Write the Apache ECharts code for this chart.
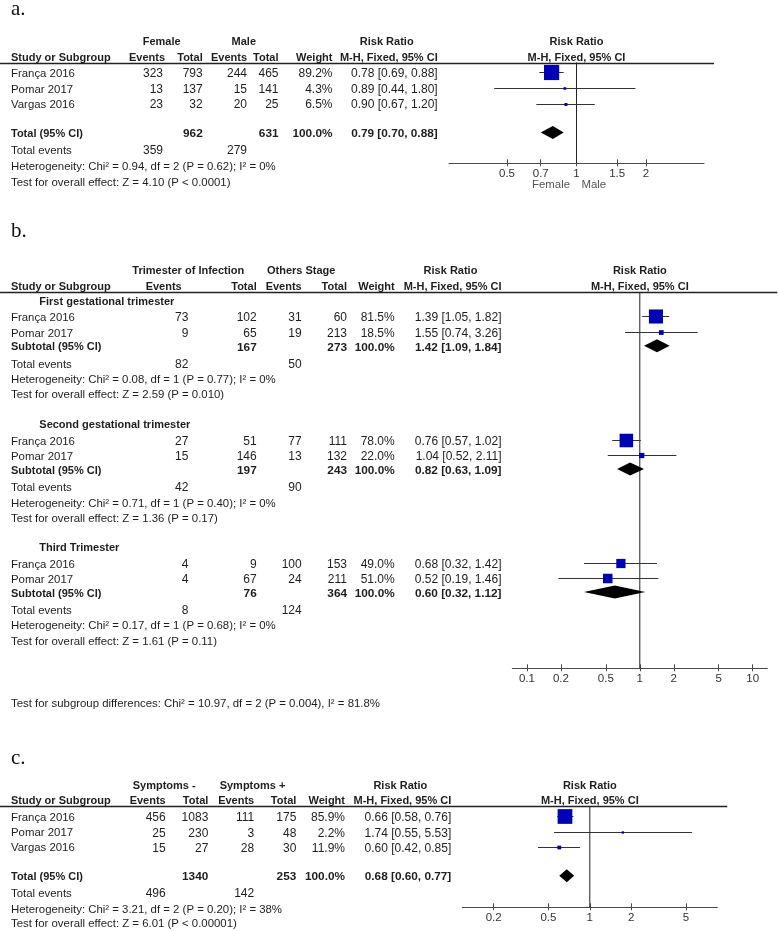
<!DOCTYPE html>
<html><head><meta charset="utf-8">
<script src="https://cdn.jsdelivr.net/npm/echarts@6/dist/echarts.min.js"></script>
<style>html,body{margin:0;padding:0;background:#fff}#main{width:778px;height:931px}</style>
</head><body><div id="main"></div>
<script>
// ---------------- Panel a : Female vs Male ----------------
const aStudies = ['França 2016', 'Pomar 2017', 'Vargas 2016'];
const aFemaleEvents = [323, 13, 23];
const aFemaleTotal = [793, 137, 32];
const aMaleEvents = [244, 15, 20];
const aMaleTotal = [465, 141, 25];
const aWeight = [89.2, 4.3, 6.5];
const aRR = [0.78, 0.89, 0.90];
const aLow = [0.69, 0.44, 0.67];
const aHigh = [0.88, 1.80, 1.20];
const aTotalN = [962, 631];
const aTotalEvents = [359, 279];
const aPooled = [0.79, 0.70, 0.88];
const aHet = 'Heterogeneity: Chi² = 0.94, df = 2 (P = 0.62); I² = 0%';
const aTest = 'Test for overall effect: Z = 4.10 (P < 0.0001)';
const aTicks = [0.5, 0.7, 1, 1.5, 2];
const aGroups = ['Female', 'Male'];
const aFavours = ['Female', 'Male'];

// ---------------- Panel b : trimester of infection ----------------
const bSubgroups = ['First gestational trimester', 'Second gestational trimester', 'Third Trimester'];
const bStudies = ['França 2016', 'Pomar 2017'];
const bTriEvents = [[73, 9], [27, 15], [4, 4]];
const bTriTotal = [[102, 65], [51, 146], [9, 67]];
const bOthEvents = [[31, 19], [77, 13], [100, 24]];
const bOthTotal = [[60, 213], [111, 132], [153, 211]];
const bWeight = [[81.5, 18.5], [78.0, 22.0], [49.0, 51.0]];
const bRR = [[1.39, 1.55], [0.76, 1.04], [0.68, 0.52]];
const bLow = [[1.05, 0.74], [0.57, 0.52], [0.32, 0.19]];
const bHigh = [[1.82, 3.26], [1.02, 2.11], [1.42, 1.46]];
const bSubTriTotal = [167, 197, 76];
const bSubOthTotal = [273, 243, 364];
const bSubRR = [1.42, 0.82, 0.60];
const bSubLow = [1.09, 0.63, 0.32];
const bSubHigh = [1.84, 1.09, 1.12];
const bEventsTri = [82, 42, 8];
const bEventsOth = [50, 90, 124];
const bHet = ['Heterogeneity: Chi² = 0.08, df = 1 (P = 0.77); I² = 0%',
              'Heterogeneity: Chi² = 0.71, df = 1 (P = 0.40); I² = 0%',
              'Heterogeneity: Chi² = 0.17, df = 1 (P = 0.68); I² = 0%'];
const bTest = ['Test for overall effect: Z = 2.59 (P = 0.010)',
               'Test for overall effect: Z = 1.36 (P = 0.17)',
               'Test for overall effect: Z = 1.61 (P = 0.11)'];
const bOverall = 'Test for subgroup differences: Chi² = 10.97, df = 2 (P = 0.004), I² = 81.8%';
const bTicks = [0.1, 0.2, 0.5, 1, 2, 5, 10];
const bGroups = ['Trimester of Infection', 'Others Stage'];

// ---------------- Panel c : symptoms ----------------
const cStudies = ['França 2016', 'Pomar 2017', 'Vargas 2016'];
const cNegEvents = [456, 25, 15];
const cNegTotal = [1083, 230, 27];
const cPosEvents = [111, 3, 28];
const cPosTotal = [175, 48, 30];
const cWeight = [85.9, 2.2, 11.9];
const cRR = [0.66, 1.74, 0.60];
const cLow = [0.58, 0.55, 0.42];
const cHigh = [0.76, 5.53, 0.85];
const cTotalN = [1340, 253];
const cTotalEvents = [496, 142];
const cPooled = [0.68, 0.60, 0.77];
const cHet = 'Heterogeneity: Chi² = 3.21, df = 2 (P = 0.20); I² = 38%';
const cTest = 'Test for overall effect: Z = 6.01 (P < 0.00001)';
const cTicks = [0.2, 0.5, 1, 2, 5];
const cGroups = ['Symptoms -', 'Symptoms +'];

// ---------------- assemble data (no layout here) ----------------
function studyRows(names, e1, n1, e2, n2, w, rr, lo, hi) {
  return names.map((s, i) => ({name: s, e1: e1[i], n1: n1[i], e2: e2[i], n2: n2[i], w: w[i], rr: rr[i], lo: lo[i], hi: hi[i]}));
}
const PANEL_DATA = [
  {letter: 'a.', groups: aGroups, ticks: aTicks, favours: aFavours, blocks: [{
    title: null, label: 'Total (95% CI)',
    studies: studyRows(aStudies, aFemaleEvents, aFemaleTotal, aMaleEvents, aMaleTotal, aWeight, aRR, aLow, aHigh),
    total: {n1: aTotalN[0], n2: aTotalN[1], rr: aPooled[0], lo: aPooled[1], hi: aPooled[2]},
    events: aTotalEvents, het: aHet, test: aTest}]},
  {letter: 'b.', groups: bGroups, ticks: bTicks, favours: null, overall: bOverall,
    blocks: bSubgroups.map((t, g) => ({
      title: t, label: 'Subtotal (95% CI)',
      studies: studyRows(bStudies, bTriEvents[g], bTriTotal[g], bOthEvents[g], bOthTotal[g], bWeight[g], bRR[g], bLow[g], bHigh[g]),
      total: {n1: bSubTriTotal[g], n2: bSubOthTotal[g], rr: bSubRR[g], lo: bSubLow[g], hi: bSubHigh[g]},
      events: [bEventsTri[g], bEventsOth[g]], het: bHet[g], test: bTest[g]}))},
  {letter: 'c.', groups: cGroups, ticks: cTicks, favours: null, blocks: [{
    title: null, label: 'Total (95% CI)',
    studies: studyRows(cStudies, cNegEvents, cNegTotal, cPosEvents, cPosTotal, cWeight, cRR, cLow, cHigh),
    total: {n1: cTotalN[0], n2: cTotalN[1], rr: cPooled[0], lo: cPooled[1], hi: cPooled[2]},
    events: cTotalEvents, het: cHet, test: cTest}]}
];

// ---------------- layout (positions only) ----------------
const ROW_H = 15.5;
const TEXT_DY = 1.5;
const PANEL_LAYOUT = [
  {letterY: 19.5, top: 62.5, axisY: 163.3, left: 449, width: 255, half: 0.5522, hdr1: -1.41, hdr2: -0.42,
   cols: {study: 11, sub: 39.3, ev1: 163, ev1H: 165, tot1: 202.7, ev2: 247, ev2H: 247, tot2: 278.5, weight: 332.5, rr: 437.7, g1: 161.7, g2: 243.8},
   blocks: [{studies: [0.63, 1.65, 2.65], total: 4.52, events: 5.58, het: 6.61, test: 7.65}]},
  {letterY: 242, top: 292.3, axisY: 668.3, left: 512.3, width: 255, half: 1.1298, hdr1: -1.48, hdr2: -0.45, overall: 26.43,
   cols: {study: 11, sub: 39.3, ev1: 188.3, ev1H: 181.7, tot1: 256.7, ev2: 301.7, ev2H: 301.7, tot2: 347, weight: 394.7, rr: 501.5, g1: 188.3, g2: 301.2},
   blocks: [
     {title: 0.5, studies: [1.56, 2.59], total: 3.45, events: 4.56, het: 5.57, test: 6.54},
     {title: 8.45, studies: [9.55, 10.5], total: 11.4, events: 12.52, het: 13.53, test: 14.5},
     {title: 16.37, studies: [17.47, 18.43], total: 19.34, events: 20.43, het: 21.45, test: 22.45}]},
  {letterY: 769, top: 806.3, axisY: 907.3, left: 462.3, width: 255, half: 0.9269, hdr1: -1.44, hdr2: -0.45,
   cols: {study: 11, sub: 39.3, ev1: 165.7, ev1H: 165.7, tot1: 208.3, ev2: 254.2, ev2H: 254.2, tot2: 296.3, weight: 345, rr: 451.3, g1: 164.2, g2: 252.5},
   blocks: [{studies: [0.65, 1.64, 2.61], total: 4.48, events: 5.57, het: 6.58, test: 7.48}]}
];

const FR = '11.4px "Liberation Sans", Arial, sans-serif';
const FN = '12px "Liberation Sans", Arial, sans-serif';
const FB = 'bold 11px "Liberation Sans", Arial, sans-serif';
const FBN = 'bold 11.8px "Liberation Sans", Arial, sans-serif';
const FL = '21px "Liberation Serif", "Times New Roman", serif';
const TXT = '#1e1e1e';
const AX = '#4a4a4a';

const fmt2 = v => v.toFixed(2);
const rrText = (e, l, h) => fmt2(e) + ' [' + fmt2(l) + ', ' + fmt2(h) + ']';

function renderStudy(params, api) {
  const row = api.value(3);
  const c = api.coord([api.value(0), row]);
  const l = api.coord([api.value(1), row]);
  const h = api.coord([api.value(2), row]);
  const y = Math.round(c[1]) + 0.5;
  const s = 2 + 0.148 * api.value(4);
  return {type: 'group', children: [
    {type: 'line', shape: {x1: l[0], y1: y, x2: h[0], y2: y}, style: {stroke: '#333', lineWidth: 1}},
    {type: 'rect', shape: {x: c[0] - s / 2, y: y - s / 2, width: s, height: s}, style: {fill: '#0000b4'}}
  ]};
}
function renderDiamond(params, api) {
  const row = api.value(3);
  const c = api.coord([api.value(0), row]);
  const l = api.coord([api.value(1), row]);
  const h = api.coord([api.value(2), row]);
  const d = 6.5;
  return {type: 'polygon', shape: {points: [[l[0], c[1]], [c[0], c[1] - d], [h[0], c[1]], [c[0], c[1] + d]]},
          style: {fill: '#000'}};
}

const chart = echarts.init(document.getElementById('main'), null, {renderer: 'canvas'});
const grids = [], xAxes = [], yAxes = [], series = [];
PANEL_LAYOUT.forEach((L, i) => {
  const D = PANEL_DATA[i];
  const gh = L.axisY - L.top;
  const yMax = gh / ROW_H;
  const min = Math.pow(10, -L.half), max = Math.pow(10, L.half);
  grids.push({left: L.left, top: L.top, width: L.width, height: gh, containLabel: false});
  // main axis: line, labels and downward tick halves
  xAxes.push({type: 'log', logBase: 10, gridIndex: i, min: min, max: max, position: 'bottom',
    axisLine: {show: true, onZero: false, lineStyle: {color: AX, width: 1}},
    axisTick: {show: true, inside: false, length: 3, customValues: D.ticks, lineStyle: {color: AX}},
    axisLabel: {show: true, customValues: D.ticks, margin: 5, fontSize: 11.5, color: '#333',
      fontFamily: '"Liberation Sans", Arial, sans-serif', formatter: v => String(+(+v).toPrecision(3))},
    splitLine: {show: false}, minorTick: {show: false}, minorSplitLine: {show: false}});
  // companion axis (same scale) moved down onto the main axis, giving the upward tick halves
  xAxes.push({type: 'log', logBase: 10, gridIndex: i, min: min, max: max, position: 'top', offset: -gh,
    axisLine: {show: false},
    axisTick: {show: true, inside: false, length: 4, customValues: D.ticks, lineStyle: {color: AX}},
    axisLabel: {show: false}, splitLine: {show: false}});
  yAxes.push({type: 'value', gridIndex: i, min: 0, max: yMax, inverse: true, show: false,
    splitLine: {show: false}});
  series.push({type: 'line', xAxisIndex: 2 * i, yAxisIndex: i, data: [[1, 0], [1, yMax]], symbol: 'none',
    silent: true, z: 1, lineStyle: {color: '#222', width: 1}});
  const studyData = [], diaData = [];
  D.blocks.forEach((b, bi) => {
    const LB = L.blocks[bi];
    b.studies.forEach((s, si) => studyData.push([s.rr, s.lo, s.hi, LB.studies[si], s.w]));
    diaData.push([b.total.rr, b.total.lo, b.total.hi, LB.total]);
  });
  series.push({type: 'custom', xAxisIndex: 2 * i, yAxisIndex: i, data: studyData, renderItem: renderStudy,
    encode: {x: [0, 1, 2], y: 3}, z: 3, silent: true, clip: false});
  series.push({type: 'custom', xAxisIndex: 2 * i, yAxisIndex: i, data: diaData, renderItem: renderDiamond,
    encode: {x: [0, 1, 2], y: 3}, z: 3, silent: true, clip: false});
});
chart.setOption({animation: false, backgroundColor: '#fff', grid: grids, xAxis: xAxes, yAxis: yAxes, series: series});

// ---------------- table text via graphic ----------------
function txt(x, y, s, align, font, color, vAlign) {
  return {type: 'text', x: x, y: y, silent: true, style: {text: String(s), font: font, fill: color || TXT,
    align: align, verticalAlign: vAlign || 'middle', textAlign: align, textVerticalAlign: vAlign || 'middle'}};
}
const G = [];
PANEL_LAYOUT.forEach((L, i) => {
  const D = PANEL_DATA[i];
  const C = L.cols;
  const yOf = r => chart.convertToPixel({yAxisIndex: i}, r) + TEXT_DY;
  const nullX = chart.convertToPixel({xAxisIndex: 2 * i}, 1);
  const rightX = chart.convertToPixel({xAxisIndex: 2 * i}, Math.pow(10, L.half));
  const yMax = (L.axisY - L.top) / ROW_H;
  G.push(txt(11, L.letterY, D.letter, 'left', FL, '#111', 'bottom'));
  const lineY = Math.round(chart.convertToPixel({yAxisIndex: i}, 0)) + 0.5;
  G.push({type: 'line', silent: true, shape: {x1: 0, y1: lineY, x2: rightX + 10, y2: lineY},
    style: {stroke: '#222', lineWidth: 1.3}});
  const h1 = yOf(L.hdr1), h2 = yOf(L.hdr2);
  G.push(txt(C.g1, h1, D.groups[0], 'center', FB));
  G.push(txt(C.g2, h1, D.groups[1], 'center', FB));
  G.push(txt(C.rr - 51, h1, 'Risk Ratio', 'center', FB));
  G.push(txt(nullX, h1, 'Risk Ratio', 'center', FB));
  G.push(txt(C.study, h2, 'Study or Subgroup', 'left', FB));
  G.push(txt(C.ev1H, h2, 'Events', 'right', FB));
  G.push(txt(C.tot1, h2, 'Total', 'right', FB));
  G.push(txt(C.ev2H, h2, 'Events', 'right', FB));
  G.push(txt(C.tot2, h2, 'Total', 'right', FB));
  G.push(txt(C.weight, h2, 'Weight', 'right', FB));
  G.push(txt(C.rr, h2, 'M-H, Fixed, 95% CI', 'right', FB));
  G.push(txt(nullX, h2, 'M-H, Fixed, 95% CI', 'center', FB));
  D.blocks.forEach((b, bi) => {
    const LB = L.blocks[bi];
    if (b.title) G.push(txt(C.sub, yOf(LB.title), b.title, 'left', FB));
    b.studies.forEach((s, si) => {
      const y = yOf(LB.studies[si]);
      G.push(txt(C.study, y, s.name, 'left', FR));
      G.push(txt(C.ev1, y, s.e1, 'right', FN));
      G.push(txt(C.tot1, y, s.n1, 'right', FN));
      G.push(txt(C.ev2, y, s.e2, 'right', FN));
      G.push(txt(C.tot2, y, s.n2, 'right', FN));
      G.push(txt(C.weight, y, s.w.toFixed(1) + '%', 'right', FN));
      G.push(txt(C.rr, y, rrText(s.rr, s.lo, s.hi), 'right', FN));
    });
    const ty = yOf(LB.total);
    G.push(txt(C.study, ty, b.label, 'left', FB));
    G.push(txt(C.tot1, ty, b.total.n1, 'right', FBN));
    G.push(txt(C.tot2, ty, b.total.n2, 'right', FBN));
    G.push(txt(C.weight, ty, '100.0%', 'right', FBN));
    G.push(txt(C.rr, ty, rrText(b.total.rr, b.total.lo, b.total.hi), 'right', FBN));
    const ey = yOf(LB.events);
    G.push(txt(C.study, ey, 'Total events', 'left', FR));
    G.push(txt(C.ev1, ey, b.events[0], 'right', FN));
    G.push(txt(C.ev2, ey, b.events[1], 'right', FN));
    G.push(txt(C.study, yOf(LB.het), b.het, 'left', FR));
    G.push(txt(C.study, yOf(LB.test), b.test, 'left', FR));
  });
  if (D.overall) G.push(txt(C.study, yOf(L.overall), D.overall, 'left', FR));
  if (D.favours) {
    const fy = chart.convertToPixel({yAxisIndex: i}, yMax) + 22;
    G.push(txt(nullX - 6.5, fy, D.favours[0], 'right', FR, '#555'));
    G.push(txt(nullX + 5, fy, D.favours[1], 'left', FR, '#555'));
  }
});
chart.setOption({graphic: {elements: G}});
</script>
</body></html>
